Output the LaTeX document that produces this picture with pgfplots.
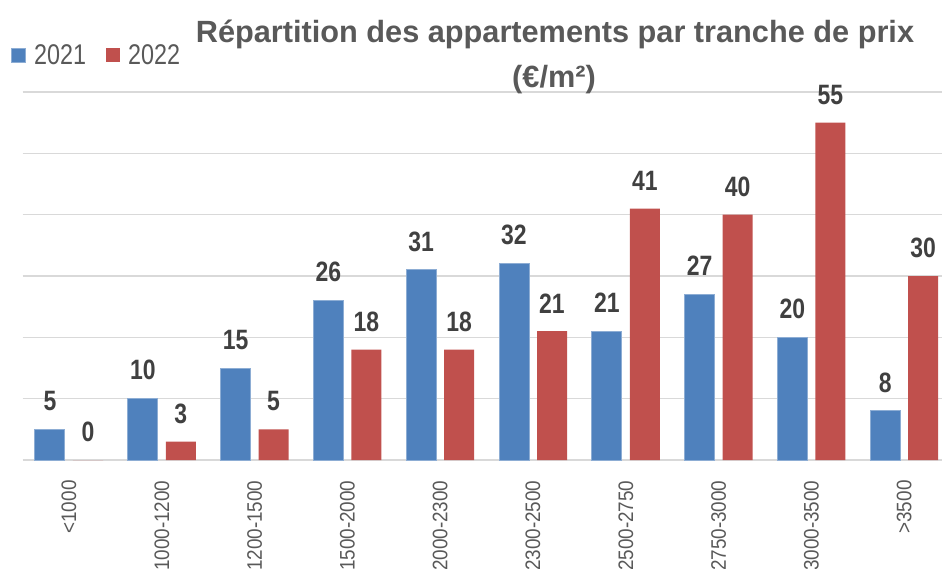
\documentclass[border=0pt]{standalone}
\usepackage{pgfplots}
\pgfplotsset{compat=1.18}
\usepackage{fontspec}
\setmainfont{Liberation Sans}
\newfontfamily\narrow[FakeStretch=0.82]{Liberation Sans}
\newfontfamily\tickfont[FakeStretch=0.9]{Liberation Sans}
\definecolor{cblue}{HTML}{4F81BD}
\definecolor{cred}{HTML}{C0504D}
\definecolor{cgrid}{HTML}{D9D9D9}
\definecolor{ctitle}{HTML}{595959}
\definecolor{clabel}{HTML}{404040}
\begin{document}
\begin{tikzpicture}
\useasboundingbox (0pt,0pt) rectangle (942pt,568pt);
\begin{axis}[
  at={(22.6pt,108pt)}, anchor=south west,
  scale only axis, width=928pt, height=368pt,
  xmin=-0.5, xmax=9.5, ymin=0, ymax=60,
  clip=false,
  /pgf/number format/assume math mode=true,
  ybar=8pt, bar width=30pt,
  ytick={0,10,...,60}, yticklabels={},
  ymajorgrids, major grid style={cgrid, line width=1.5pt},
  axis line style={draw=none}, tick style={draw=none},
  xtick={0,...,9},
  xticklabels={<1000,1000-1200,1200-1500,1500-2000,2000-2300,2300-2500,2500-2750,2750-3000,3000-3500,>3500},
  xticklabel style={rotate=90, anchor=east, inner ysep=0pt, inner xsep=16pt,
     font=\tickfont\fontsize{21}{21}\selectfont, text=ctitle},
  nodes near coords,
  every node near coord/.append style={font=\narrow\bfseries\fontsize{28}{28}\selectfont,
     text=clabel, inner sep=0pt, anchor=south, yshift=18pt},
  legend style={at={(axis description cs:0,1)}, anchor=west, xshift=-11.6pt, yshift=37pt,
     draw=none, fill=none, inner sep=0pt,
     nodes={inner sep=0pt, font=\narrow\fontsize{28.5}{28.5}\selectfont, text=ctitle},
     /tikz/every odd column/.append style={column sep=8pt},
     /tikz/every even column/.append style={column sep=20pt}},
  legend columns=4,
  legend image code/.code={\fill[#1] (0pt,-7pt) rectangle (14pt,7pt);},
]
\addplot[fill=cblue, draw=cblue!65!white, line width=1pt] coordinates {(0,5) (1,10) (2,15) (3,26) (4,31) (5,32) (6,21) (7,27) (8,20) (9,8)};
\addplot[fill=cred, draw=none] coordinates {(0,0) (1,3) (2,5) (3,18) (4,18) (5,21) (6,41) (7,40) (8,55) (9,30)};
\legend{2021,2022}
\end{axis}
\node[anchor=base, font=\bfseries\fontsize{30.7}{30.7}\selectfont, text=ctitle, inner sep=0pt] at (555pt,525pt) {Répartition des appartements par tranche de prix};
\node[anchor=base, font=\bfseries\fontsize{30.7}{30.7}\selectfont, text=ctitle, inner sep=0pt] at (554pt,480pt) {(€/m²)};
\end{tikzpicture}
\end{document}
